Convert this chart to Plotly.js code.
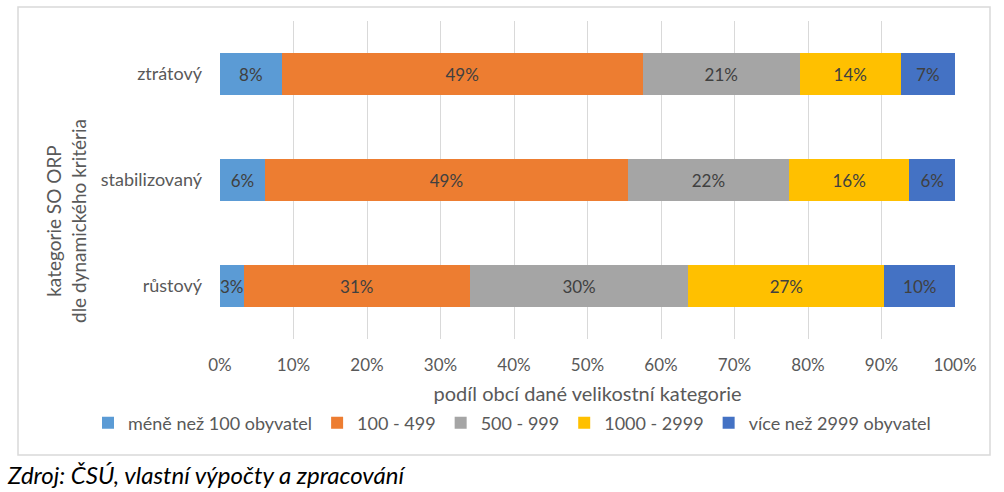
<!DOCTYPE html>
<html>
<head>
<meta charset="utf-8">
<script src="https://cdn.plot.ly/plotly-3.0.1.min.js"></script>
<style>
  html, body { margin: 0; padding: 0; background: #ffffff; }
  #chart { width: 1004px; height: 492px; }
</style>
</head>
<body>
<div id="chart"></div>
<script>
// categories, bottom to top as drawn
const categories = ["růstový", "stabilizovaný", "ztrátový"];

const seriesNames = ["méně než 100 obyvatel", "100 - 499", "500 - 999", "1000 - 2999", "více než 2999 obyvatel"];

// shares in % per category (růstový, stabilizovaný, ztrátový)
const under100 = [3.2, 6.1, 8.4];
const from100to499 = [30.8, 49.4, 49.1];
const from500to999 = [29.7, 21.9, 21.4];
const from1000to2999 = [26.7, 16.4, 13.7];
const over2999 = [9.6, 6.2, 7.4];

const tickValues = [0, 10, 20, 30, 40, 50, 60, 70, 80, 90, 100];

const seriesValues = [under100, from100to499, from500to999, from1000to2999, over2999];
const seriesColors = ["#5B9BD5", "#ED7D31", "#A5A5A5", "#FFC000", "#4472C4"];

const fontFamily = "Lato, 'Open Sans', sans-serif";

const traces = seriesValues.map((values, i) => ({
  type: "bar",
  orientation: "h",
  name: seriesNames[i],
  y: categories,
  x: values,
  marker: { color: seriesColors[i], line: { width: 0 } },
  texttemplate: "%{x:.0f}%",
  textposition: "inside",
  insidetextanchor: "middle",
  textangle: 0,
  constraintext: "none",
  textfont: { family: fontFamily, size: 17, color: "#404040" },
  hovertemplate: "%{y}: %{x:.1f}%<extra>" + seriesNames[i] + "</extra>"
}));

const layout = {
  width: 1004,
  height: 492,
  margin: { l: 220, r: 49, t: 21, b: 153 },
  paper_bgcolor: "#ffffff",
  plot_bgcolor: "#ffffff",
  barmode: "stack",
  bargap: 0.6,
  font: { family: fontFamily, size: 17, color: "#595959" },
  xaxis: {
    range: [0, 100],
    tickvals: tickValues,
    ticktext: tickValues.map((v) => v + "%"),
    showgrid: true,
    gridcolor: "#d9d9d9",
    gridwidth: 1,
    zeroline: false,
    showline: false,
    ticks: "",
    ticklabelstandoff: 14,
    tickfont: { family: fontFamily, size: 17, color: "#595959" },
    title: {
      text: "podíl obcí dané velikostní kategorie",
      font: { family: fontFamily, size: 20, color: "#595959" },
      standoff: 12
    },
    fixedrange: true
  },
  yaxis: {
    type: "category",
    categoryorder: "array",
    categoryarray: categories,
    showgrid: false,
    zeroline: false,
    showline: false,
    ticks: "",
    ticklabelstandoff: 17,
    tickfont: { family: fontFamily, size: 18, color: "#595959" },
    fixedrange: true
  },
  legend: {
    orientation: "h",
    x: (88 - 220) / 735,
    xanchor: "left",
    y: (339 - 423) / 318,
    yanchor: "middle",
    font: { family: fontFamily, size: 18, color: "#595959" },
    traceorder: "normal",
    itemclick: false,
    itemdoubleclick: false
  },
  annotations: [
    {
      text: "kategorie SO ORP<br>dle dynamického kritéria",
      xref: "paper", yref: "paper",
      x: (66 - 220) / 735, xanchor: "center",
      y: (339 - 221) / 318, yanchor: "middle",
      textangle: -90,
      showarrow: false,
      font: { family: fontFamily, size: 19, color: "#595959" }
    },
    {
      text: "<i>Zdroj: ČSÚ, vlastní výpočty a zpracování</i>",
      xref: "paper", yref: "paper",
      x: (5 - 220) / 735, xanchor: "left",
      y: (339 - 475) / 318, yanchor: "middle",
      showarrow: false,
      font: { family: fontFamily, size: 24, color: "#000000" }
    }
  ],
  shapes: [
    {
      type: "rect",
      xref: "paper", yref: "paper",
      x0: (18 - 220) / 735, x1: (990 - 220) / 735,
      y0: (339 - 455) / 318, y1: (339 - 7) / 318,
      line: { color: "#d9d9d9", width: 1.5 },
      fillcolor: "rgba(0,0,0,0)",
      layer: "below"
    }
  ]
};

Plotly.newPlot("chart", traces, layout, { displayModeBar: false });
</script>
</body>
</html>
